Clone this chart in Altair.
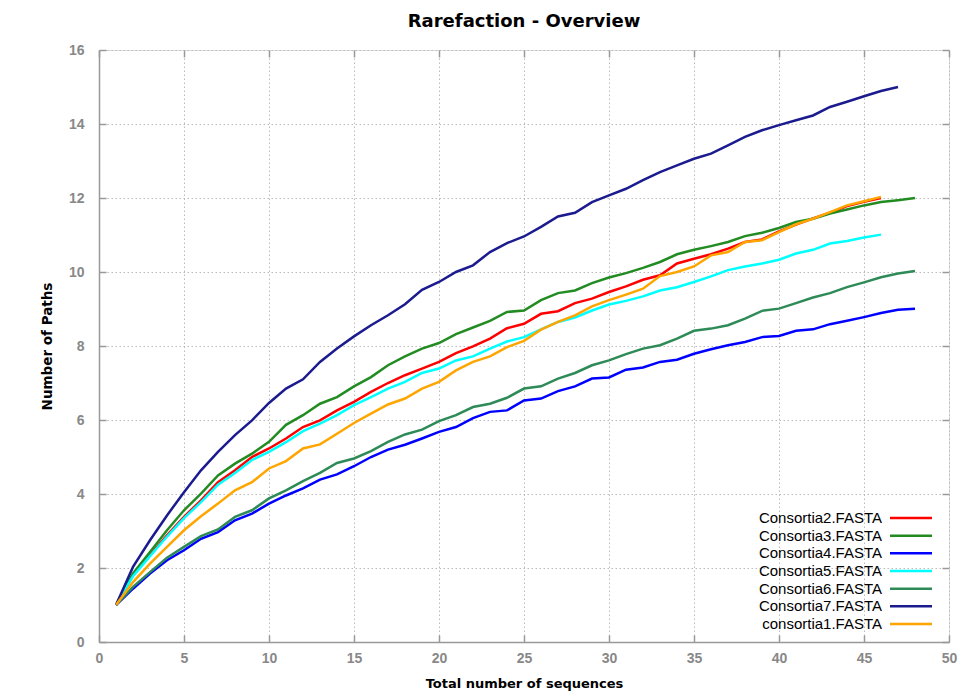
import altair as alt
import pandas as pd

series_names = ["Consortia2.FASTA", "Consortia3.FASTA", "Consortia4.FASTA",
                "Consortia5.FASTA", "Consortia6.FASTA", "Consortia7.FASTA",
                "consortia1.FASTA"]
series_colors = ["#ff0000", "#228b22", "#0000ff", "#00ffff", "#2e8b57",
                 "#1b1b8f", "#ffa500"]

consortia2 = [1, 1.8, 2.35, 2.88, 3.38, 3.83, 4.32, 4.64, 5.0, 5.23,
              5.5, 5.81, 5.99, 6.26, 6.49, 6.76, 7.0, 7.21, 7.39, 7.57,
              7.81, 7.99, 8.2, 8.48, 8.6, 8.87, 8.94, 9.16, 9.28, 9.46,
              9.61, 9.79, 9.91, 10.23, 10.36, 10.48, 10.63, 10.81, 10.88, 11.1,
              11.28, 11.45, 11.6, 11.78, 11.9, 12.0]
consortia3 = [1, 1.85, 2.43, 3.02, 3.56, 4.01, 4.5, 4.82, 5.09, 5.41,
              5.87, 6.13, 6.44, 6.62, 6.91, 7.16, 7.48, 7.72, 7.93, 8.08,
              8.32, 8.5, 8.68, 8.92, 8.96, 9.24, 9.43, 9.5, 9.7, 9.85,
              9.97, 10.11, 10.27, 10.48, 10.6, 10.7, 10.81, 10.97, 11.06, 11.19,
              11.35, 11.44, 11.58, 11.69, 11.8, 11.89, 11.94, 12.0]
consortia4 = [1, 1.44, 1.85, 2.21, 2.48, 2.79, 2.97, 3.29, 3.47, 3.74,
              3.96, 4.15, 4.39, 4.53, 4.75, 5.0, 5.2, 5.33, 5.5, 5.68,
              5.81, 6.05, 6.22, 6.26, 6.53, 6.58, 6.78, 6.91, 7.12, 7.15,
              7.36, 7.42, 7.57, 7.63, 7.79, 7.91, 8.02, 8.11, 8.24, 8.27,
              8.41, 8.45, 8.59, 8.68, 8.78, 8.89, 8.98, 9.01]
consortia5 = [1, 1.78, 2.32, 2.85, 3.35, 3.78, 4.25, 4.57, 4.92, 5.14,
              5.4, 5.7, 5.9, 6.13, 6.4, 6.62, 6.85, 7.03, 7.27, 7.39,
              7.61, 7.72, 7.93, 8.12, 8.24, 8.45, 8.65, 8.77, 8.96, 9.12,
              9.22, 9.34, 9.5, 9.59, 9.73, 9.88, 10.05, 10.15, 10.23, 10.33,
              10.5, 10.6, 10.77, 10.84, 10.93, 11.01]
consortia6 = [1, 1.49, 1.89, 2.28, 2.57, 2.86, 3.04, 3.38, 3.56, 3.88,
              4.1, 4.35, 4.57, 4.84, 4.96, 5.16, 5.41, 5.61, 5.74, 5.97,
              6.13, 6.35, 6.44, 6.6, 6.85, 6.91, 7.12, 7.27, 7.48, 7.61,
              7.78, 7.93, 8.02, 8.2, 8.41, 8.47, 8.56, 8.74, 8.95, 9.01,
              9.16, 9.31, 9.43, 9.59, 9.72, 9.86, 9.96, 10.03]
consortia7 = [1, 2.03, 2.75, 3.42, 4.05, 4.64, 5.14, 5.59, 5.99, 6.46,
              6.85, 7.1, 7.57, 7.93, 8.26, 8.56, 8.83, 9.13, 9.52, 9.73,
              10.0, 10.18, 10.54, 10.78, 10.96, 11.22, 11.5, 11.6, 11.89, 12.07,
              12.25, 12.48, 12.7, 12.88, 13.06, 13.2, 13.42, 13.65, 13.83, 13.97,
              14.1, 14.23, 14.46, 14.6, 14.75, 14.89, 15.0]
consortia1 = [1, 1.62, 2.12, 2.57, 3.02, 3.4, 3.74, 4.1, 4.32, 4.69,
              4.89, 5.23, 5.34, 5.63, 5.92, 6.17, 6.42, 6.58, 6.85, 7.03,
              7.34, 7.57, 7.72, 7.97, 8.14, 8.44, 8.65, 8.83, 9.07, 9.24,
              9.39, 9.55, 9.89, 10.0, 10.15, 10.45, 10.54, 10.81, 10.86, 11.08,
              11.29, 11.44, 11.62, 11.8, 11.91, 12.03]

x_ticks = list(range(0, 51, 5))
y_ticks = list(range(0, 17, 2))

all_series = [consortia2, consortia3, consortia4, consortia5,
              consortia6, consortia7, consortia1]
rows = []
for name, vals in zip(series_names, all_series):
    for i, v in enumerate(vals):
        rows.append({"x": i + 1, "y": v, "series": name})
df = pd.DataFrame(rows)
leg_df = pd.DataFrame({"series": series_names})

W, H = 850, 592
color_scale = alt.Scale(domain=series_names, range=series_colors)
xs = alt.Scale(domain=[0, 50], nice=False)
ys = alt.Scale(domain=[0, 16], nice=False)

tick_style = dict(labels=False, domain=False, grid=False, ticks=True,
                  tickSize=7, tickColor="#999999", tickWidth=1.5)

lines = alt.Chart(df).mark_line(strokeWidth=2.5).encode(
    x=alt.X("x:Q", scale=xs, axis=alt.Axis(
        orient="bottom", values=x_ticks, title="Total number of sequences",
        titleFont="DejaVu Sans", titleFontSize=13, titleFontWeight="bold",
        titleColor="black", titlePadding=12,
        labelFont="Liberation Sans", labelFontSize=14, labelFontWeight="bold",
        labelColor="#888888", labelPadding=9, labelFlush=False,
        ticks=False, domain=True, domainColor="#999999", domainWidth=1.5,
        grid=True, gridColor="#bbbbbb", gridDash=[1.5, 2.5], gridWidth=1)),
    y=alt.Y("y:Q", scale=ys, axis=alt.Axis(
        orient="left", values=y_ticks, title="Number of Paths",
        titleFont="DejaVu Sans", titleFontSize=13.5, titleFontWeight="bold",
        titleColor="black", titlePadding=14,
        labelFont="Liberation Sans", labelFontSize=14, labelFontWeight="bold",
        labelColor="#888888", labelPadding=15,
        ticks=False, domain=True, domainColor="#999999", domainWidth=1.5,
        grid=True, gridColor="#bbbbbb", gridDash=[1.5, 2.5], gridWidth=1)),
    color=alt.Color("series:N", scale=color_scale, legend=None),
    detail="series:N",
)

ticks_a = alt.Chart(df).mark_line(opacity=0).encode(
    x=alt.X("x:Q", scale=xs, axis=alt.Axis(orient="top", offset=-H,
                                             values=x_ticks, title=None, **tick_style)),
    y=alt.Y("y:Q", scale=ys, axis=alt.Axis(orient="right", offset=-W,
                                             values=y_ticks, title=None, **tick_style)),
    detail="series:N",
)
ticks_b = alt.Chart(df).mark_line(opacity=0).encode(
    x=alt.X("x:Q", scale=xs, axis=alt.Axis(orient="bottom", offset=-H,
                                             values=x_ticks, title=None, **tick_style)),
    y=alt.Y("y:Q", scale=ys, axis=alt.Axis(orient="left", offset=-W,
                                             values=y_ticks, title=None, **tick_style)),
    detail="series:N",
)

leg_y = alt.Y("series:N", sort=series_names,
              scale=alt.Scale(type="point", range=[468, 574], padding=0),
              axis=None)
leg_text = alt.Chart(leg_df).mark_text(
    align="right", baseline="middle", font="Liberation Sans", fontSize=15,
    color="black").encode(x=alt.value(783), y=leg_y, text="series:N")
leg_rule = alt.Chart(leg_df).mark_rule(strokeWidth=2.5).encode(
    x=alt.value(791), x2=alt.value(833), y=leg_y,
    color=alt.Color("series:N", scale=color_scale, legend=None))

chart = alt.layer(ticks_a, ticks_b, lines, leg_rule, leg_text).resolve_scale(
    y="independent"
).resolve_axis(
    x="independent", y="independent"
).properties(
    width=W, height=H,
    title=alt.TitleParams("Rarefaction - Overview", font="DejaVu Sans",
                          fontSize=18, fontWeight="bold", color="black",
                          anchor="middle", offset=12),
    autosize=alt.AutoSizeParams(type="none"),
    padding={"left": 91, "top": 42, "right": 15, "bottom": 50},
).configure_view(stroke=None).configure(background="white")

chart.save("out.html", embed_options={"renderer": "svg", "actions": False})
